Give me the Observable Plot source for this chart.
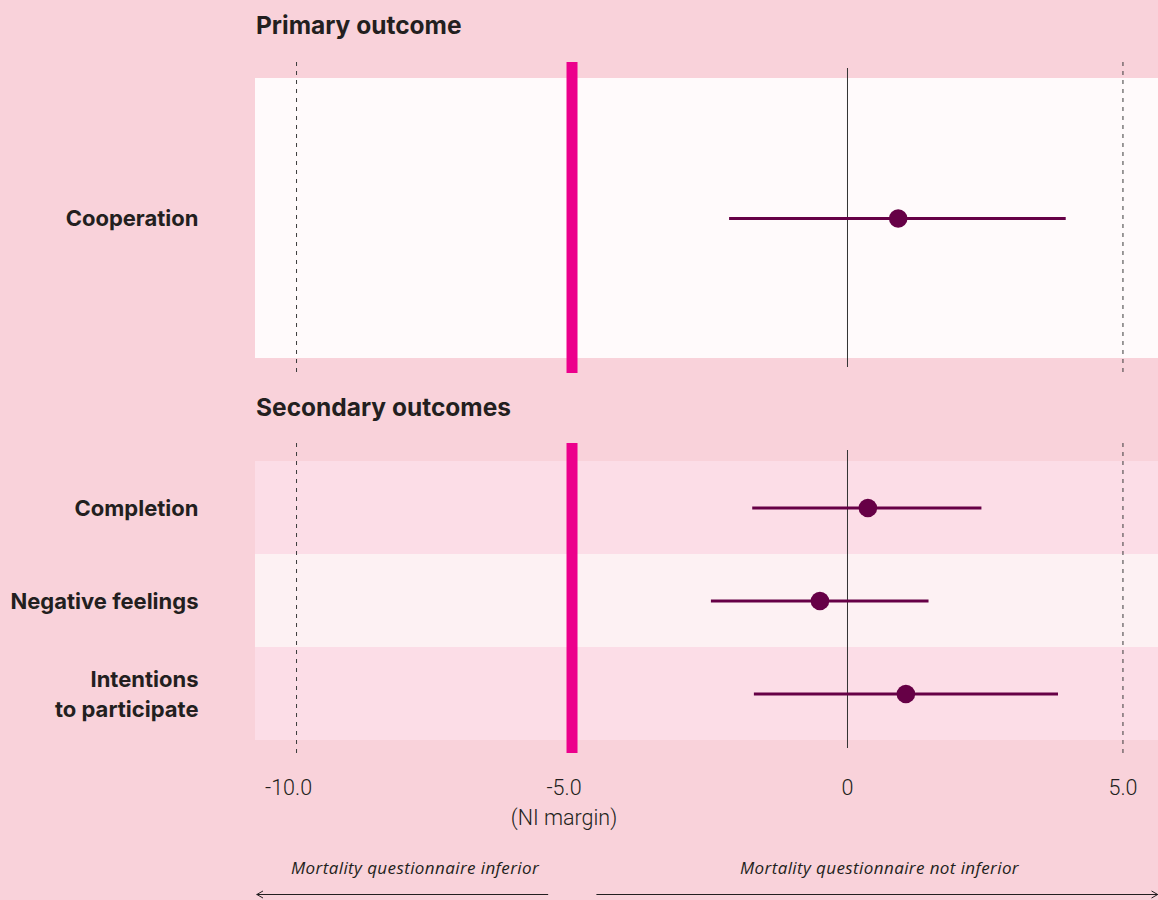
<!DOCTYPE html>
<html>
<head>
<meta charset="utf-8">
<script src="https://cdn.jsdelivr.net/npm/d3@7"></script>
<script src="https://cdn.jsdelivr.net/npm/@observablehq/plot@0.6"></script>
<style>
  html, body { margin: 0; padding: 0; background: #f9d2da; }
  #chart { width: 1158px; height: 900px; overflow: hidden; background: #f9d2da; }
  .title { box-sizing: border-box; padding-left: 256px; font-family: Inter, Lato, "Noto Sans", sans-serif; font-weight: 700; font-size: 24.5px; color: #231f20; white-space: nowrap; }
  #chart svg { display: block; }
</style>
</head>
<body>
<div id="chart"></div>
<script>
// ---- Data ----
const xDomain = [-10.745, 5.645];
const niMargin = [-5];
const referenceLines = [-10, 5];
const zeroLine = [0];
const tickValues = [-10, -5, 0, 5];
const tickLabels = ["-10.0", "-5.0\n(NI margin)", "0", "5.0"];

const primaryTitle = "Primary outcome";
const primaryOutcomes = ["Cooperation"];
const primaryEstimates = [0.92];
const primaryLower = [-2.14];
const primaryUpper = [3.97];

const secondaryTitle = "Secondary outcomes";
const secondaryOutcomes = ["Completion", "Negative feelings", "Intentions\nto participate"];
const secondaryEstimates = [0.37, -0.50, 1.06];
const secondaryLower = [-1.72, -2.47, -1.69];
const secondaryUpper = [2.44, 1.48, 3.83];

const directionLabels = ["Mortality questionnaire inferior", "Mortality questionnaire not inferior"];
const directionFrom = [-5.44, -4.55];
const directionTo = [-10.72, 5.63];
const directionLabelAt = [-7.85, 0.58];

// ---- Build tables ----
const primary = primaryOutcomes.map((outcome, i) => ({outcome, estimate: primaryEstimates[i], lower: primaryLower[i], upper: primaryUpper[i]}));
const secondary = secondaryOutcomes.map((outcome, i) => ({outcome, estimate: secondaryEstimates[i], lower: secondaryLower[i], upper: secondaryUpper[i]}));
const directions = directionLabels.map((label, i) => ({label, from: directionFrom[i], to: directionTo[i], at: directionLabelAt[i]}));

const ink = "#231f20";
const plum = "#660046";
const magenta = "#ec008c";
const tickFormat = d => tickLabels[tickValues.indexOf(d)];
const tickStyle = {tickFormat, tickSize: 0, tickPadding: 20, fontSize: 21.5, fontWeight: 300, fontFamily: "Roboto, sans-serif", lineHeight: 1.4, fill: ink};

function panel(data, opts) {
  return Plot.plot({
    width: 1158,
    height: opts.height,
    marginLeft: 255,
    marginRight: 0,
    marginTop: opts.marginTop,
    marginBottom: opts.marginBottom,
    x: {domain: xDomain, axis: null},
    y: {type: "band", domain: data.map(d => d.outcome), range: opts.bandRange, padding: 0, axis: null},
    style: {background: "transparent", overflow: "visible", fontFamily: "Inter, Lato, 'Noto Sans', sans-serif"},
    marks: [
      Plot.cell(data, {y: "outcome", fill: opts.bandFill}),
      Plot.ruleX(referenceLines, {stroke: "#3a3a3a", strokeWidth: 1, strokeDasharray: "4,5"}),
      Plot.ruleX(niMargin, {stroke: magenta, strokeWidth: 11}),
      Plot.ruleX(zeroLine, {stroke: "#333333", strokeWidth: 1, insetTop: opts.zeroInsetTop, insetBottom: opts.zeroInsetBottom}),
      Plot.ruleY(data, {y: "outcome", x1: "lower", x2: "upper", stroke: plum, strokeWidth: 3}),
      Plot.dot(data, {y: "outcome", x: "estimate", r: 9.3, fill: plum, stroke: "none"}),
      Plot.text(data, {y: "outcome", text: "outcome", frameAnchor: "left", textAnchor: "end", dx: -57, dy: -2, fontSize: 22, fontWeight: 700, lineHeight: 1.36, fill: ink}),
      opts.axis ? Plot.axisX(tickValues.filter(v => v < 0), {...tickStyle, dx: -8}) : null,
      opts.axis ? Plot.axisX(tickValues.filter(v => v >= 0), tickStyle) : null
    ]
  });
}

const chart = document.getElementById("chart");

const t1 = document.createElement("div");
t1.className = "title";
t1.style.height = "50px";
t1.style.lineHeight = "50px";
t1.textContent = primaryTitle;
chart.appendChild(t1);

chart.appendChild(panel(primary, {
  height: 335, marginTop: 12, marginBottom: 12, bandRange: [28, 308],
  bandFill: "#fffafb", zeroInsetTop: 6, zeroInsetBottom: 6, axis: false
}));

const t2 = document.createElement("div");
t2.className = "title";
t2.style.height = "45px";
t2.style.lineHeight = "45px";
t2.textContent = secondaryTitle;
chart.appendChild(t2);

chart.appendChild(panel(secondary, {
  height: 410, marginTop: 13, marginBottom: 87, bandRange: [30, 310],
  bandFill: (d, i) => (i % 2 ? "#fdf1f3" : "#fcdde7"), zeroInsetTop: 7, zeroInsetBottom: 5, axis: true
}));

chart.appendChild(Plot.plot({
  width: 1158,
  height: 60,
  marginLeft: 255,
  marginRight: 0,
  marginTop: 28,
  marginBottom: 6,
  x: {domain: xDomain, axis: null},
  y: {type: "point", domain: ["label", "arrow"], padding: 0, axis: null},
  style: {background: "transparent", overflow: "visible", fontFamily: "'Open Sans', Roboto, sans-serif", letterSpacing: "0.4px"},
  marks: [
    Plot.text(directions, {x: "at", y: () => "label", text: "label", fontStyle: "italic", fontSize: 17, fill: ink}),
    Plot.arrow(directions, {x1: "from", x2: "to", y1: () => "arrow", y2: () => "arrow", stroke: ink, strokeWidth: 1, headLength: 10, headAngle: 60})
  ]
}));
</script>
</body>
</html>
